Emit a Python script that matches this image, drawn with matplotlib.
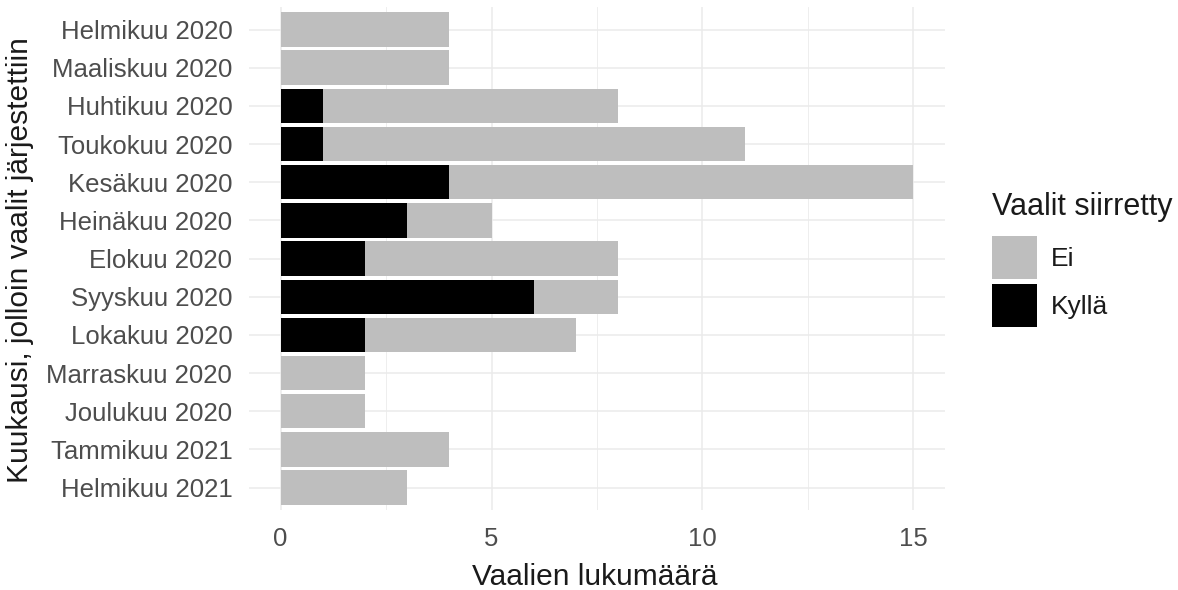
import numpy as np
import matplotlib.pyplot as plt
from matplotlib.patches import Patch

plt.rcParams['font.family'] = ['Liberation Sans', 'DejaVu Sans']

# kuukaudet ja vaalien lukumäärät
months = ['Helmikuu 2020', 'Maaliskuu 2020', 'Huhtikuu 2020', 'Toukokuu 2020',
          'Kesäkuu 2020', 'Heinäkuu 2020', 'Elokuu 2020', 'Syyskuu 2020',
          'Lokakuu 2020', 'Marraskuu 2020', 'Joulukuu 2020', 'Tammikuu 2021',
          'Helmikuu 2021']
kylla = [0, 0, 1, 1, 4, 3, 2, 6, 2, 0, 0, 0, 0]
ei = [4, 4, 7, 10, 11, 2, 6, 2, 5, 2, 2, 4, 3]
xticks = [0, 5, 10, 15]

grey = '#BEBEBE'
grid_col = '#EBEBEB'
txt = '#1A1A1A'

fig = plt.figure(figsize=(11.78, 5.90), dpi=100)
ax = fig.add_axes([0.2114, 0.1349, 0.5908, 0.8539])

y = np.arange(len(months))
ax.barh(y, kylla, height=0.9, color='black', zorder=3)
ax.barh(y, ei, left=kylla, height=0.9, color=grey, zorder=3)

ax.set_xlim(-0.75, 15.75)
ax.set_ylim(len(months) - 0.4, -0.6)
ax.set_yticks(y)
ax.set_yticklabels(months)
ax.set_xticks(xticks)
ax.set_xticks([2.5, 7.5, 12.5], minor=True)
ax.grid(True, which='major', color=grid_col, linewidth=1.1, zorder=0)
ax.grid(True, which='minor', axis='x', color=grid_col, linewidth=0.6, zorder=0)
ax.tick_params(which='both', length=0)
ax.tick_params(axis='both', labelsize=18.5, labelcolor='#4D4D4D', pad=12)
for s in ax.spines.values():
    s.set_visible(False)

# akselien otsikot
fig.text(0.505, 0.022, 'Vaalien lukumäärä', fontsize=21.5, color=txt,
         ha='center', va='center')
fig.text(0.017, 0.559, 'Kuukausi, jolloin vaalit järjestettiin', fontsize=21.5,
         color=txt, ha='center', va='center', rotation=90)

# selite
fig.text(0.842, 1 - 215 / 590, 'Vaalit siirretty', fontsize=22, color=txt,
         ha='left', va='baseline')
handles = [Patch(facecolor=grey, edgecolor='none', label='Ei'),
           Patch(facecolor='black', edgecolor='none', label='Kyllä')]
leg = fig.legend(handles=handles, loc='upper left',
                 bbox_to_anchor=(0.842, 1 - 236 / 590), frameon=False, fontsize=19,
                 handlelength=1.7, handleheight=2.13,
                 handletextpad=0.55, labelspacing=0.2, borderpad=0,
                 borderaxespad=0)
for t in leg.get_texts():
    t.set_color(txt)

fig.savefig('out.png', dpi=100)
